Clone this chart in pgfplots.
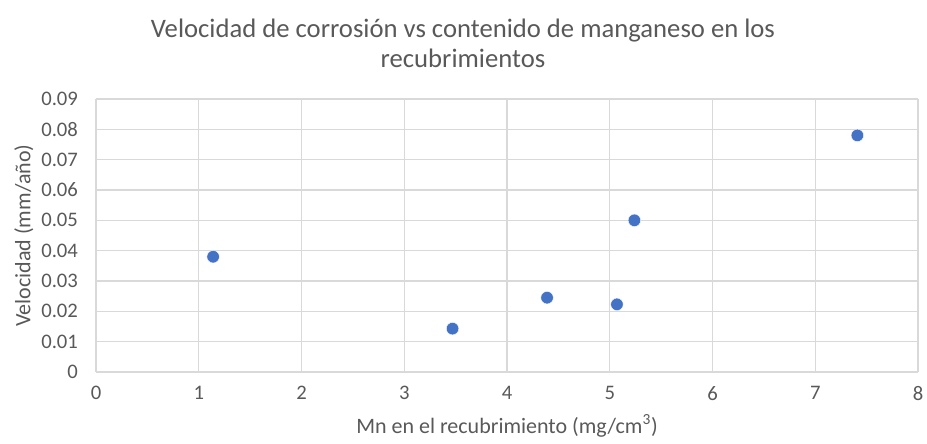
\documentclass[border=0pt]{standalone}
\usepackage{pgfplots}
\pgfplotsset{compat=1.18}
\usepackage{fontspec}
\setmainfont{Carlito}
\definecolor{txtgray}{HTML}{595959}
\definecolor{gridgray}{HTML}{D9D9D9}
\definecolor{dotblue}{HTML}{4472C4}
\begin{document}
\begin{tikzpicture}[x=0.75pt,y=0.75pt]
% bounding box = 927 x 443 px, plot area 96..918 x 99..372 px
\useasboundingbox (-96,-71) rectangle (831,372);
\begin{axis}[
    at={(0,0)}, anchor=south west,
    scale only axis,
    width=616.5pt, height=204.75pt,
    xmin=0, xmax=8, ymin=0, ymax=0.09,
    xtick={0,1,...,8},
    ytick={0,0.01,...,0.09},
    scaled y ticks=false,
    yticklabels={0,0.01,0.02,0.03,0.04,0.05,0.06,0.07,0.08,0.09},
    grid=major,
    grid style={gridgray, line width=1.1pt},
    axis line style={draw=none},
    major tick length=0pt,
    tick label style={font=\fontsize{15.5}{17}\selectfont, text=txtgray},
    /pgf/number format/assume math mode=true,
    xticklabel style={yshift=-7pt},
    yticklabel style={xshift=-10pt},
    xlabel={Mn en el recubrimiento (mg/cm\textsuperscript{3})},
    ylabel={Velocidad (mm/año)},
    label style={font=\fontsize{16.5}{18}\selectfont, text=txtgray},
    xlabel style={yshift=-4pt},
    ylabel style={yshift=-1pt},
    title={Velocidad de corrosión vs contenido de manganeso en los\\recubrimientos},
    title style={font=\fontsize{20}{22.5}\selectfont, text=txtgray, align=center, yshift=14pt, xshift=-33pt},
]
\addplot[only marks, mark=*, mark size=4.7pt, mark options={fill=dotblue, draw=white, line width=0.3pt}] coordinates {
    (1.14,0.038) (3.47,0.0143) (4.39,0.0245) (5.07,0.0223) (5.24,0.050) (7.41,0.078)
};
\end{axis}
\end{tikzpicture}
\end{document}
